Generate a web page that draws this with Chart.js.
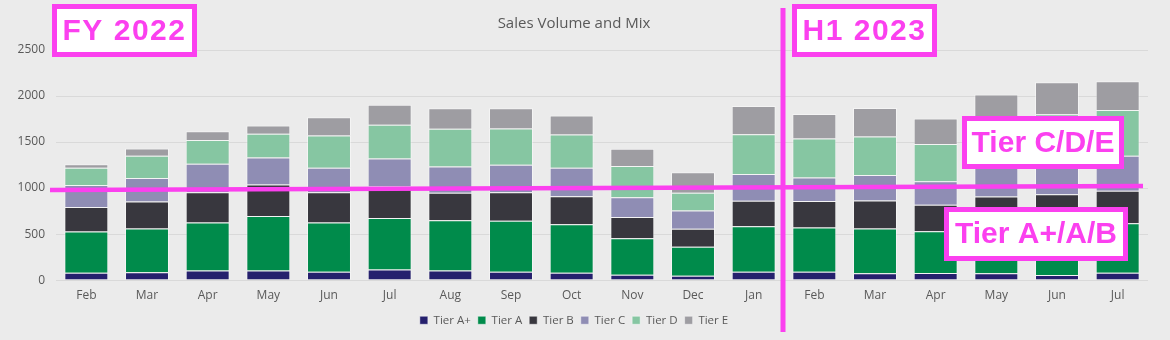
<!DOCTYPE html>
<html>
<head>
<meta charset="utf-8">
<script src="https://cdn.jsdelivr.net/npm/chart.js@4.4.0/dist/chart.umd.min.js"></script>
<style>
  html, body { margin: 0; padding: 0; background: #ebebeb; }
  #wrap { width: 1170px; height: 340px; position: relative; }
</style>
</head>
<body>
<div id="wrap"><canvas id="salesChart" width="1170" height="340"></canvas></div>
<script>
// months: FY 2022 (Feb..Jan) then H1 2023 (Feb..Jul)
const months = ["Feb", "Mar", "Apr", "May", "Jun", "Jul", "Aug", "Sep", "Oct", "Nov", "Dec", "Jan",
                "Feb", "Mar", "Apr", "May", "Jun", "Jul"];

const tierAPlus = [81, 85, 103, 103, 92, 114, 103, 92, 81, 59, 48, 92, 92, 74, 77, 74, 55, 81];
const tierA     = [446, 476, 524, 594, 535, 561, 546, 553, 527, 395, 313, 494, 480, 487, 454, 526, 535, 538];
const tierB     = [266, 294, 328, 343, 328, 343, 301, 310, 303, 232, 196, 277, 287, 305, 288, 307, 342, 351];
const tierC     = [239, 255, 309, 291, 265, 302, 285, 299, 309, 214, 199, 291, 255, 277, 254, 383, 398, 380];
const tierD     = [188, 240, 259, 258, 351, 369, 410, 394, 362, 339, 194, 431, 424, 417, 406, 410, 473, 499];
const tierE     = [38, 80, 95, 92, 199, 217, 221, 218, 207, 188, 223, 307, 268, 309, 276, 316, 347, 311];

const yTicks = [0, 500, 1000, 1500, 2000, 2500];

const PINK = "#fb40ef";
const FONT = "'Open Sans', sans-serif";

// callout boxes and marker lines drawn over the chart
const annotations = {
    id: "annotations",
    afterDraw(chart) {
        const ctx = chart.ctx;
        ctx.save();
        ctx.strokeStyle = PINK;
        ctx.lineCap = "butt";

        // horizontal divider between tier groups
        ctx.lineWidth = 4.5;
        ctx.beginPath();
        ctx.moveTo(50, 190);
        ctx.lineTo(1143, 186);
        ctx.stroke();

        // vertical split between FY 2022 and H1 2023
        ctx.lineWidth = 5;
        ctx.beginPath();
        ctx.moveTo(783, 8);
        ctx.lineTo(783, 332);
        ctx.stroke();

        const box = (x, y, w, h, text, spacing) => {
            ctx.fillStyle = "#ffffff";
            ctx.fillRect(x, y, w, h);
            ctx.lineWidth = 5;
            ctx.strokeStyle = PINK;
            ctx.strokeRect(x + 2.5, y + 2.5, w - 5, h - 5);
            ctx.fillStyle = PINK;
            ctx.font = "bold 30px 'Liberation Sans', Arial, sans-serif";
            ctx.letterSpacing = spacing;
            ctx.textAlign = "center";
            ctx.textBaseline = "middle";
            ctx.fillText(text, x + w / 2, y + h / 2 + 1);
            ctx.letterSpacing = "0px";
        };
        box(52, 4, 145, 53, "FY 2022", "1.5px");
        box(792, 4, 145, 53, "H1 2023", "1.5px");
        box(962, 116, 162, 53, "Tier C/D/E", "0px");
        box(944, 207, 184, 54, "Tier A+/A/B", "0px");
        ctx.restore();
    }
};

const barBorder = "rgba(255, 255, 255, 0.45)";

const ctx = document.getElementById("salesChart").getContext("2d");
const salesChart = new Chart(ctx, {
    type: "bar",
    data: {
        labels: months,
        datasets: [
            { label: "Tier A+", data: tierAPlus, backgroundColor: "#25206d" },
            { label: "Tier A", data: tierA, backgroundColor: "#008b4b" },
            { label: "Tier B", data: tierB, backgroundColor: "#38373e" },
            { label: "Tier C", data: tierC, backgroundColor: "#8f8db4" },
            { label: "Tier D", data: tierD, backgroundColor: "#86c6a2" },
            { label: "Tier E", data: tierE, backgroundColor: "#9e9da2" },
        ].map(ds => Object.assign(ds, {
            borderColor: barBorder,
            borderWidth: 1,
            categoryPercentage: 0.725,
            barPercentage: 1,
        })),
    },
    options: {
        responsive: false,
        animation: false,
        layout: {
            padding: { left: 0, right: 22, top: 0, bottom: 4 },
        },
        plugins: {
            title: {
                display: true,
                text: "Sales Volume and Mix",
                color: "#595959",
                font: { family: FONT, size: 15, weight: "normal" },
                padding: { top: 15, bottom: 17 },
            },
            legend: {
                position: "bottom",
                labels: {
                    color: "#595959",
                    font: { family: FONT, size: 11.5 },
                    boxWidth: 8,
                    boxHeight: 8,
                    padding: 7,
                },
            },
            tooltip: { enabled: false },
        },
        scales: {
            x: {
                stacked: true,
                grid: { display: false, drawTicks: false },
                border: { display: false },
                afterFit: scale => {
                    scale.height = scale.height - 3;
                },
                ticks: {
                    color: "#595959",
                    font: { family: FONT, size: 12 },
                    padding: 8,
                },
            },
            y: {
                stacked: true,
                min: 0,
                max: 2500,
                afterBuildTicks: scale => {
                    scale.ticks = yTicks.map(v => ({ value: v }));
                },
                afterFit: scale => {
                    scale.width = 56;
                },
                grid: { color: "#d9d9d9", lineWidth: 1, drawTicks: false },
                border: { display: false },
                ticks: {
                    color: "#595959",
                    font: { family: FONT, size: 12 },
                    padding: 11,
                    callback: value => String(value),
                },
            },
        },
    },
    plugins: [annotations],
});
</script>
</body>
</html>
